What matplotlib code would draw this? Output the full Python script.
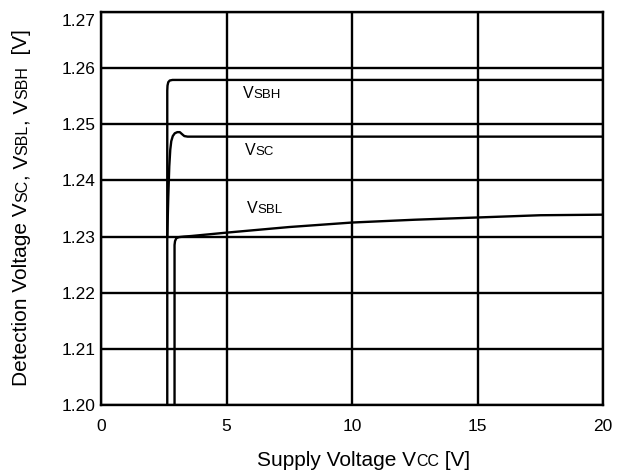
import matplotlib
matplotlib.use("Agg")
import matplotlib.pyplot as plt
from matplotlib.transforms import IdentityTransform, ScaledTranslation

plt.rcParams['font.family'] = ['Liberation Sans', 'DejaVu Sans']

# Supply voltage Vcc [V] and detection voltages [V]
vsbh_x = [2.64, 2.64, 2.65, 2.68, 2.74, 2.85, 3.0, 20.0]
vsbh_y = [1.200, 1.2560, 1.2569, 1.2575, 1.2578, 1.2579, 1.2579, 1.2579]

vsc_x = [2.64, 2.68, 2.72, 2.76, 2.80, 2.86, 2.94, 3.04, 3.14, 3.24, 3.32, 3.45, 20.0]
vsc_y = [1.2300, 1.2370, 1.2425, 1.2455, 1.2470, 1.2479, 1.2484, 1.2486, 1.2486, 1.2482, 1.2479, 1.2478, 1.2478]

vsbl_x = [2.93, 2.93, 2.95, 3.00, 3.10, 3.30, 3.60, 5.0, 7.5, 10.0, 12.5, 15.0, 17.5, 20.0]
vsbl_y = [1.200, 1.2285, 1.2292, 1.2297, 1.2299, 1.2300, 1.2301, 1.2307, 1.2317, 1.2325, 1.2330, 1.2334, 1.2338, 1.2339]

x_ticks = [0, 5, 10, 15, 20]
y_ticks = [1.20, 1.21, 1.22, 1.23, 1.24, 1.25, 1.26, 1.27]

W, H = 618, 471
fig = plt.figure(figsize=(W / 100, H / 100), dpi=100)
ax = fig.add_axes([101 / W, 1 - 405 / H, (603 - 101) / W, (405 - 12) / H])

lw = 1.7
for xs, ys in [(vsbh_x, vsbh_y), (vsc_x, vsc_y), (vsbl_x, vsbl_y)]:
    ax.plot(xs, ys, color='black', lw=lw, solid_joinstyle='round', zorder=3)

ax.set_xlim(0, 20)
ax.set_ylim(1.20, 1.27)
ax.set_xticks(x_ticks)
ax.set_yticks(y_ticks)
ax.set_xticklabels([str(v) for v in x_ticks])
ax.set_yticklabels([f"{v:.2f}" for v in y_ticks])
ax.grid(True, color='black', lw=lw)
ax.tick_params(length=0, labelsize=12.5, pad=4)
ax.tick_params(axis='x', pad=10)
for s in ax.spines.values():
    s.set_linewidth(lw)
    s.set_zorder(4)

# nudge the top y label down so it sits inside the frame
top_lbl = ax.get_yticklabels()[-1]
top_lbl.set_transform(top_lbl.get_transform() + ScaledTranslation(0, -8 / 100, fig.dpi_scale_trans))

renderer = fig.canvas.get_renderer()


def rich_text(x, y, pieces, rotation=0):
    """Draw text pieces of differing size on a shared baseline, in pixel coords (top-left origin)."""
    px, py = x, H - y
    for s, size in pieces:
        t = fig.text(px, py, s, fontsize=size, transform=IdentityTransform(),
                     ha='left', va='baseline', rotation=rotation, rotation_mode='anchor')
        probe = fig.text(0, 0, s, fontsize=size, transform=IdentityTransform())
        w = probe.get_window_extent(renderer).width
        probe.remove()
        if rotation == 90:
            py += w
        else:
            px += w


big, small = 15, 11.5
rich_text(257, 466, [("Supply Voltage V", big), ("CC", small), (" [V]", big)])
rich_text(27, 386, [("Detection Voltage V", big), ("SC", small), (", V", big), ("SBL", small),
                    (", V", big), ("SBH", small), ("  [V]", big)], rotation=90)

lab, lab_s = 11.5, 9.5
rich_text(243, 98, [("V", lab), ("SBH", lab_s)])
rich_text(245, 155, [("V", lab), ("SC", lab_s)])
rich_text(247, 213, [("V", lab), ("SBL", lab_s)])

fig.savefig("out.png", dpi=100)
